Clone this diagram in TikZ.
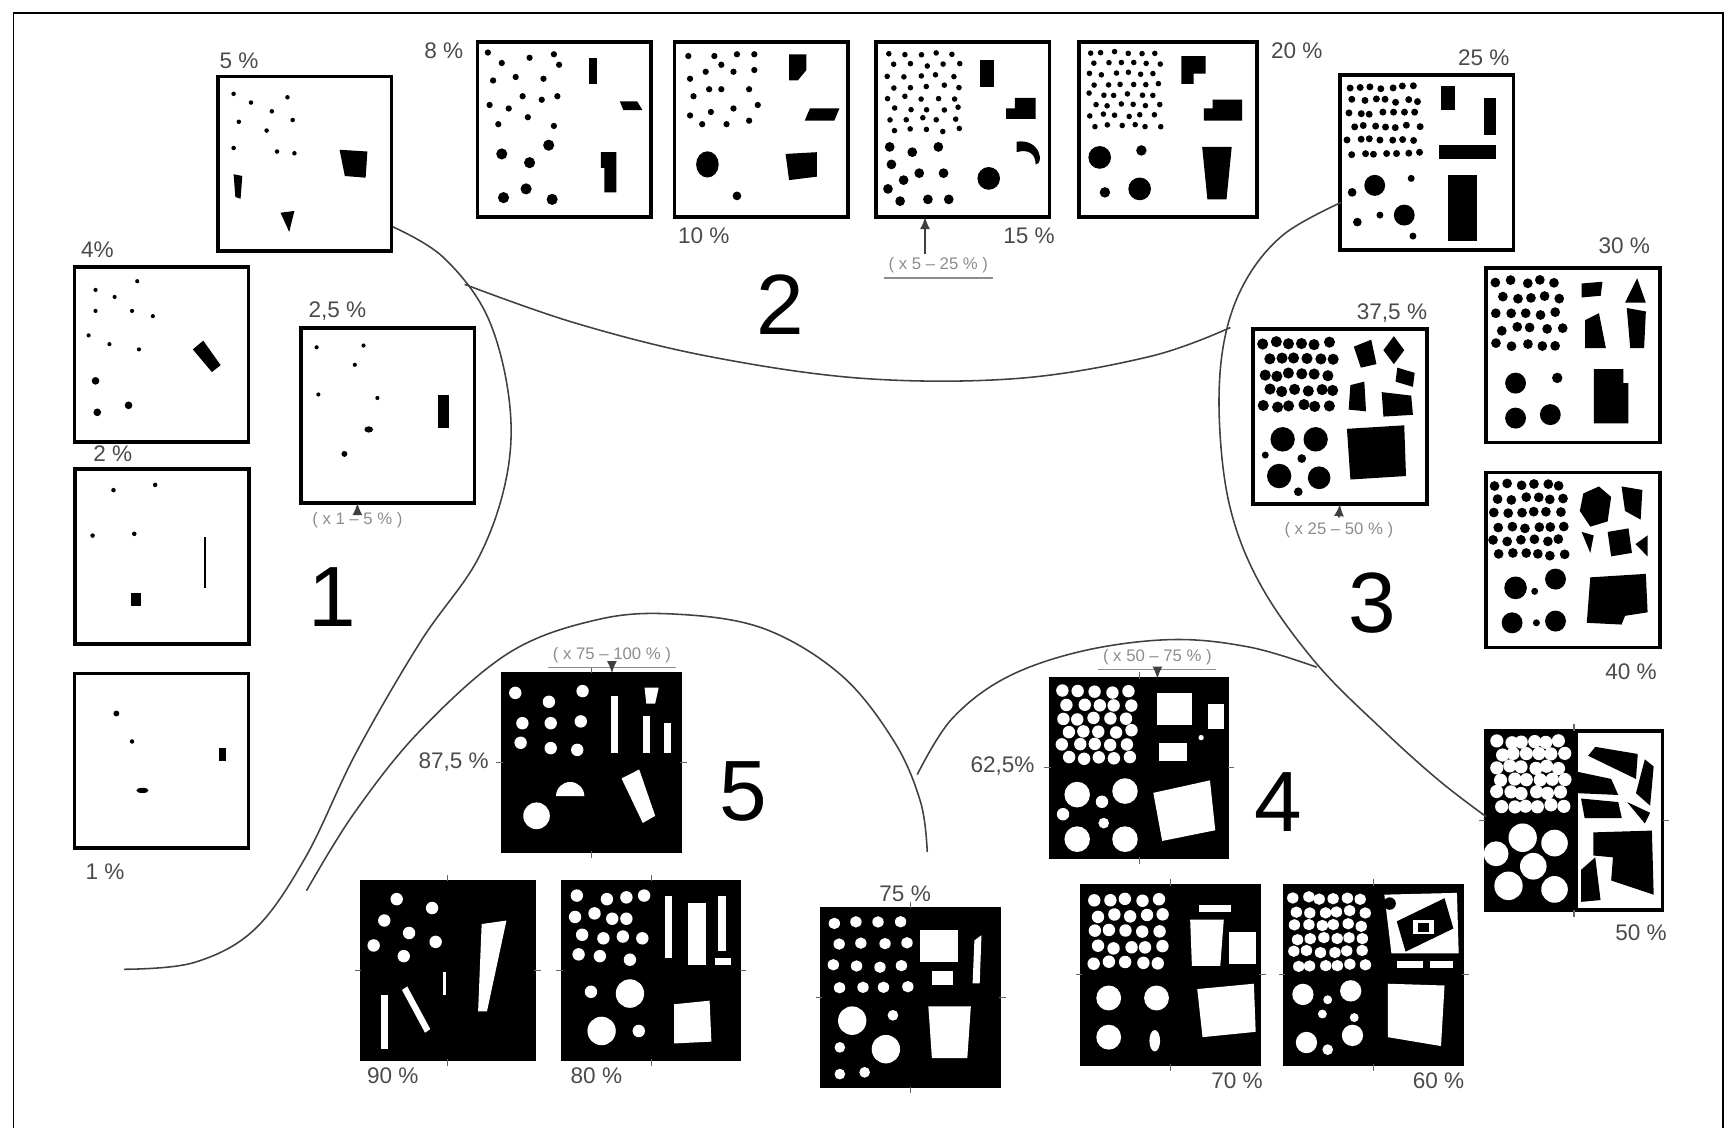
\documentclass[tikz,border=0pt]{standalone}
\usepackage{fontspec}
\setmainfont{Liberation Sans}
\usetikzlibrary{arrows.meta,positioning}
\definecolor{inkgray}{HTML}{4A4A4A}
\definecolor{faintgray}{HTML}{8C8C8C}
\tikzset{
  chart/.style={draw=black,line width=0.9pt,fill=white,minimum width=15.7mm,minimum height=15.8mm,inner sep=0pt,outer sep=0pt},
  darkchart/.style={chart,fill=black,minimum width=16mm,minimum height=16.1mm},
  pct/.style={font=\fontsize{5.8}{6}\selectfont,text=inkgray,inner sep=0pt},
  grp/.style={font=\fontsize{22}{22}\selectfont,inner sep=0pt},
  rangelbl/.style={font=\fontsize{4.3}{4.5}\selectfont,text=faintgray,inner sep=1pt},
  uline/.style={draw=faintgray,line width=0.3pt},
  bound/.style={draw=black!75,line width=0.4pt},
  ar/.style={-{Latex[length=1.1mm,width=0.9mm]},draw=black!75,line width=0.4pt},
  tickmark/.style={draw=black!60,line width=0.3pt},
  inbox/.style={shift={(#1.north west)},x=15.7mm,y=-15.8mm},
  inboxd/.style={shift={(#1.north west)},x=16mm,y=-16.1mm},
}

\begin{document}
\begin{tikzpicture}[x=0.1mm,y=-0.1mm]
  \pgfmathsetseed{11}
  \useasboundingbox (0,0) rectangle (1568,1019);
  \draw[line width=0.4pt] (12,1030) -- (12,12) -- (1557,12) -- (1557,1030);

  % charts, group 1
  \node[chart] (c5) at (275.5,148) {};
  \node[chart] (c4) at (146,320.5) {};
  \node[chart] (c2) at (146.5,503) {};
  \node[chart] (c1) at (146,687.5) {};
  \node[chart] (c25) at (350.5,375.5) {};
  % group 2
  \node[chart] (c8) at (510,117) {};
  \node[chart] (c10) at (688,117) {};
  \node[chart] (c15) at (870,117) {};
  \node[chart,minimum width=16.1mm] (c20) at (1055.5,117) {};
  % group 3
  \node[chart] (c25b) at (1289.5,147) {};
  \node[chart] (c30) at (1421.5,321) {};
  \node[chart] (c375) at (1211,376.5) {};
  \node[chart] (c40) at (1421.5,506) {};
  \node[chart,minimum width=16mm,minimum height=16.2mm] (c50) at (1422.5,741.5) {};
  % groups 4 and 5
  \node[darkchart] (c62) at (1029.5,694) {};
  \node[darkchart] (c87) at (534.5,689) {};
  \node[darkchart,minimum width=15.6mm] (c90) at (404.5,877) {};
  \node[darkchart] (c80) at (588.5,877) {};
  \node[darkchart] (c75) at (823,901.5) {};
  \node[darkchart] (c70) at (1058,881) {};
  \node[darkchart] (c60) at (1241.5,881) {};

  \foreach \b in {c62,c87,c90,c80,c75,c70,c60,c50} {
    \draw[tickmark] (\b.north) -- ++(0,-6);
    \draw[tickmark] (\b.south) -- ++(0,6);
    \draw[tickmark] (\b.west) -- ++(-6,0);
    \draw[tickmark] (\b.east) -- ++(6,0);
  }

  % grains, white charts
  \begin{scope}[inbox=c5]
    \foreach \px/\py in {0.09/0.10,0.19/0.15,0.31/0.20,0.40/0.12,0.12/0.26,0.28/0.31,0.43/0.25,0.09/0.41,0.34/0.43,0.44/0.44}
      \fill (\px,\py) circle[radius=0.013];
    \fill (0.70,0.42) -- (0.86,0.43) -- (0.85,0.58) -- (0.73,0.57) -- cycle;
    \fill (0.09,0.56) -- (0.14,0.57) -- (0.13,0.70) -- (0.10,0.69) -- cycle;
    \fill (0.36,0.78) -- (0.44,0.77) -- (0.41,0.89) -- cycle;
  \end{scope}
  \begin{scope}[inbox=c4]
    \foreach \px/\py in {0.12/0.13,0.23/0.17,0.36/0.08,0.12/0.25,0.33/0.25,0.45/0.28,0.08/0.39,0.20/0.44,0.37/0.47}
      \fill (\px,\py) circle[radius=0.012];
    \foreach \px/\py in {0.12/0.65,0.13/0.83,0.31/0.79}
      \fill (\px,\py) circle[radius=0.022];
    \fill (0.68,0.47) -- (0.74,0.42) -- (0.84,0.56) -- (0.79,0.60) -- cycle;
  \end{scope}
  \begin{scope}[inbox=c2]
    \foreach \px/\py in {0.22/0.12,0.46/0.09,0.10/0.38,0.34/0.37}
      \fill (\px,\py) circle[radius=0.013];
    \fill (0.32,0.71) rectangle (0.38,0.78);
    \fill (0.74,0.39) rectangle (0.755,0.68);
  \end{scope}
  \begin{scope}[inbox=c1]
    \fill (0.24,0.23) circle[radius=0.017];
    \fill (0.33,0.39) circle[radius=0.013];
    \fill (0.39,0.67) ellipse[x radius=0.035,y radius=0.015];
    \fill (0.83,0.43) rectangle (0.87,0.50);
  \end{scope}
  \begin{scope}[inbox=c25]
    \foreach \px/\py in {0.09/0.11,0.36/0.10,0.31/0.21,0.10/0.38,0.44/0.40}
      \fill (\px,\py) circle[radius=0.012];
    \fill (0.39,0.58) ellipse[x radius=0.025,y radius=0.018];
    \fill (0.25,0.72) circle[radius=0.017];
    \fill (0.79,0.38) rectangle (0.85,0.57);
  \end{scope}
  \begin{scope}[inbox=c8]
    \foreach \px/\py in {0.06/0.06,0.30/0.09,0.44/0.07,0.14/0.12,0.47/0.13,0.09/0.22,0.22/0.20,0.38/0.21,0.26/0.31,0.37/0.33,0.46/0.31,0.07/0.36,0.18/0.38,0.29/0.43,0.12/0.47,0.44/0.48}
      \fill (\px,\py) circle[radius=0.018];
    \foreach \px/\py in {0.14/0.64,0.41/0.59,0.30/0.69,0.28/0.84,0.15/0.89,0.43/0.90}
      \fill (\px,\py) circle[radius=0.032];
    \fill (0.64,0.09) rectangle (0.69,0.24);
    \fill (0.82,0.34) -- (0.92,0.34) -- (0.95,0.39) -- (0.84,0.39) -- cycle;
    \fill (0.71,0.63) -- (0.80,0.63) -- (0.80,0.86) -- (0.73,0.86) -- (0.73,0.72) -- (0.71,0.72) -- cycle;
  \end{scope}
  \begin{scope}[inbox=c10]
    \foreach \px/\py in {0.08/0.08,0.23/0.08,0.36/0.07,0.46/0.07,0.27/0.13,0.46/0.16,0.09/0.21,0.18/0.17,0.34/0.17,0.20/0.27,0.27/0.27,0.43/0.27,0.11/0.31,0.48/0.36,0.21/0.40,0.34/0.38,0.09/0.42,0.16/0.47,0.30/0.47,0.43/0.45}
      \fill (\px,\py) circle[radius=0.018];
    \fill (0.19,0.70) ellipse[x radius=0.065,y radius=0.075];
    \fill (0.36,0.88) circle[radius=0.025];
    \fill (0.66,0.07) -- (0.76,0.07) -- (0.76,0.16) -- (0.71,0.22) -- (0.66,0.22) -- cycle;
    \fill (0.78,0.38) -- (0.95,0.38) -- (0.92,0.45) -- (0.75,0.45) -- cycle;
    \fill (0.64,0.64) -- (0.82,0.63) -- (0.82,0.77) -- (0.66,0.79) -- cycle;
  \end{scope}
  \begin{scope}[inbox=c15]
    \foreach \i in {0,...,4} \foreach \j in {0,...,7}
      \fill ({0.07+0.095*\i+0.03*mod(\j,2)+0.012*rand},{0.07+0.062*\j+0.01*rand}) circle[radius=0.016];
    \foreach \px/\py in {0.08/0.60,0.21/0.63,0.36/0.60,0.09/0.70,0.25/0.75,0.39/0.75,0.07/0.84,0.16/0.79,0.14/0.91,0.30/0.90,0.42/0.90}
      \fill (\px,\py) circle[radius=0.028];
    \fill (0.65,0.78) circle[radius=0.065];
    \fill (0.60,0.10) rectangle (0.68,0.26);
    \fill (0.80,0.32) -- (0.92,0.32) -- (0.92,0.44) -- (0.75,0.44) -- (0.75,0.38) -- (0.80,0.38) -- cycle;
    \fill (0.81,0.57) .. controls (0.95,0.55) and (0.97,0.70) .. (0.92,0.70) .. controls (0.92,0.64) and (0.88,0.61) .. (0.81,0.63) -- cycle;
  \end{scope}
  \begin{scope}[inbox=c20]
    \foreach \i in {0,...,5} \foreach \j in {0,...,7}
      \fill ({0.06+0.075*\i+0.03*mod(\j,2)+0.01*rand},{0.06+0.06*\j+0.008*rand}) circle[radius=0.016];
    \foreach \px/\py/\pr in {0.12/0.66/0.065,0.36/0.62/0.03,0.35/0.84/0.065,0.15/0.86/0.03}
      \fill (\px,\py) circle[radius=\pr];
    \fill (0.59,0.08) -- (0.73,0.08) -- (0.73,0.18) -- (0.66,0.18) -- (0.66,0.24) -- (0.59,0.24) -- cycle;
    \fill (0.77,0.33) -- (0.94,0.33) -- (0.94,0.45) -- (0.72,0.45) -- (0.72,0.38) -- (0.77,0.38) -- cycle;
    \fill (0.71,0.60) -- (0.88,0.60) -- (0.85,0.90) -- (0.74,0.90) -- cycle;
  \end{scope}
  \begin{scope}[inbox=c25b]
    \foreach \i in {0,...,6} \foreach \j in {0,...,5}
      \fill ({0.05+0.063*\i+0.025*mod(\j,2)+0.01*rand},{0.07+0.075*\j+0.01*rand}) circle[radius=0.02];
    \foreach \px/\py/\pr in {0.20/0.63/0.06,0.37/0.80/0.06,0.07/0.67/0.025,0.10/0.84/0.025,0.23/0.80/0.02,0.41/0.59/0.02,0.42/0.92/0.02}
      \fill (\px,\py) circle[radius=\pr];
    \fill (0.58,0.06) rectangle (0.66,0.20);
    \fill (0.83,0.13) rectangle (0.90,0.34);
    \fill (0.57,0.40) rectangle (0.90,0.48);
    \fill (0.62,0.57) rectangle (0.79,0.95);
  \end{scope}
  \begin{scope}[inbox=c30]
    \foreach \i in {0,...,4} \foreach \j in {0,...,4}
      \fill ({0.06+0.085*\i+0.03*mod(\j,2)+0.012*rand},{0.08+0.09*\j+0.012*rand}) circle[radius=0.028];
    \foreach \px/\py/\pr in {0.17/0.66/0.06,0.17/0.86/0.06,0.37/0.84/0.06,0.41/0.63/0.03}
      \fill (\px,\py) circle[radius=\pr];
    \fill (0.55,0.09) -- (0.67,0.08) -- (0.66,0.16) -- (0.55,0.17) -- cycle;
    \fill (0.80,0.20) -- (0.87,0.06) -- (0.92,0.20) -- cycle;
    \fill (0.57,0.30) -- (0.65,0.26) -- (0.69,0.46) -- (0.57,0.46) -- cycle;
    \fill (0.81,0.23) -- (0.92,0.25) -- (0.91,0.46) -- (0.83,0.46) -- cycle;
    \fill (0.62,0.58) -- (0.79,0.58) -- (0.79,0.66) -- (0.82,0.66) -- (0.82,0.89) -- (0.62,0.89) -- cycle;
  \end{scope}
  \begin{scope}[inbox=c375]
    \foreach \i in {0,...,5} \foreach \j in {0,...,4}
      \fill ({0.06+0.075*\i+0.03*mod(\j,2)+0.01*rand},{0.08+0.09*\j+0.01*rand}) circle[radius=0.032];
    \foreach \px/\py/\pr in {0.17/0.63/0.07,0.36/0.63/0.07,0.15/0.84/0.07,0.38/0.85/0.065,0.28/0.74/0.025,0.26/0.93/0.025,0.07/0.72/0.02}
      \fill (\px,\py) circle[radius=\pr];
    \fill (0.58,0.10) -- (0.68,0.06) -- (0.71,0.20) -- (0.62,0.22) -- cycle;
    \fill (0.81,0.04) -- (0.87,0.12) -- (0.81,0.20) -- (0.75,0.12) -- cycle;
    \fill (0.83,0.22) -- (0.93,0.25) -- (0.92,0.33) -- (0.82,0.30) -- cycle;
    \fill (0.56,0.32) -- (0.64,0.30) -- (0.65,0.47) -- (0.55,0.46) -- cycle;
    \fill (0.74,0.36) -- (0.91,0.38) -- (0.92,0.49) -- (0.75,0.50) -- cycle;
    \fill (0.54,0.57) -- (0.87,0.55) -- (0.88,0.84) -- (0.56,0.86) -- cycle;
  \end{scope}
  \begin{scope}[inbox=c40]
    \foreach \i in {0,...,5} \foreach \j in {0,...,5}
      \fill ({0.05+0.075*\i+0.025*mod(\j,2)+0.01*rand},{0.07+0.08*\j+0.01*rand}) circle[radius=0.028];
    \foreach \px/\py/\pr in {0.17/0.66/0.065,0.40/0.61/0.06,0.15/0.86/0.06,0.40/0.85/0.06,0.28/0.68/0.02,0.29/0.86/0.02}
      \fill (\px,\py) circle[radius=\pr];
    \fill (0.56,0.12) -- (0.65,0.08) -- (0.72,0.14) -- (0.70,0.28) -- (0.60,0.31) -- (0.54,0.22) -- cycle;
    \fill (0.78,0.08) -- (0.90,0.10) -- (0.89,0.27) -- (0.80,0.22) -- cycle;
    \fill (0.70,0.34) -- (0.82,0.32) -- (0.84,0.46) -- (0.72,0.48) -- cycle;
    \fill (0.86,0.41) -- (0.93,0.36) -- (0.93,0.48) -- cycle;
    \fill (0.55,0.34) -- (0.62,0.36) -- (0.60,0.46) -- cycle;
    \fill (0.60,0.60) -- (0.92,0.58) -- (0.93,0.80) -- (0.80,0.82) -- (0.78,0.87) -- (0.58,0.86) -- cycle;
  \end{scope}
  \begin{scope}[inboxd=c50]
    \fill (0,0) rectangle (0.52,1);
    \foreach \i in {0,...,5} \foreach \j in {0,...,5}
      \fill[white] ({0.07+0.07*\i+0.02*mod(\j,2)+0.01*rand},{0.06+0.072*\j+0.008*rand}) circle[radius=0.037];
    \foreach \px/\py/\pr in {0.21/0.60/0.08,0.39/0.63/0.075,0.06/0.69/0.07,0.27/0.76/0.075,0.13/0.87/0.08,0.39/0.89/0.075}
      \fill[white] (\px,\py) circle[radius=\pr];
    \fill (0.62,0.09) -- (0.86,0.13) -- (0.85,0.27) -- (0.58,0.14) -- cycle;
    \fill (0.52,0.23) -- (0.71,0.27) -- (0.75,0.36) -- (0.52,0.35) -- cycle;
    \fill (0.90,0.16) -- (0.95,0.20) -- (0.93,0.42) -- (0.85,0.35) -- cycle;
    \fill (0.54,0.38) -- (0.75,0.40) -- (0.77,0.49) -- (0.56,0.49) -- cycle;
    \fill (0.80,0.40) -- (0.93,0.46) -- (0.90,0.52) -- cycle;
    \fill (0.61,0.57) -- (0.94,0.56) -- (0.95,0.92) -- (0.71,0.84) -- (0.72,0.71) -- (0.61,0.70) -- cycle;
    \fill (0.54,0.78) -- (0.62,0.71) -- (0.65,0.95) -- (0.54,0.96) -- cycle;
  \end{scope}

  % grains, black charts
  \begin{scope}[inboxd=c87,white]
    \foreach \px/\py in {0.07/0.11,0.26/0.16,0.45/0.10,0.11/0.28,0.27/0.28,0.44/0.27,0.10/0.39,0.27/0.42,0.42/0.43}
      \fill (\px,\py) circle[radius=0.035];
    \fill (0.19,0.80) circle[radius=0.075];
    \fill (0.30,0.69) arc[start angle=180,end angle=360,radius=0.08] -- cycle;
    \fill (0.61,0.13) rectangle (0.65,0.45);
    \fill (0.80,0.08) -- (0.88,0.08) -- (0.86,0.17) -- (0.81,0.17) -- cycle;
    \fill (0.79,0.24) rectangle (0.83,0.45);
    \fill (0.91,0.28) rectangle (0.95,0.45);
    \fill (0.67,0.59) -- (0.77,0.54) -- (0.86,0.80) -- (0.79,0.84) -- cycle;
  \end{scope}
  \begin{scope}[inboxd=c90,white]
    \foreach \px/\py in {0.20/0.10,0.40/0.15,0.13/0.22,0.27/0.29,0.42/0.34,0.07/0.36,0.24/0.42}
      \fill (\px,\py) circle[radius=0.035];
    \fill (0.68,0.24) -- (0.82,0.22) -- (0.71,0.73) -- (0.66,0.73) -- cycle;
    \fill (0.11,0.64) rectangle (0.15,0.94);
    \fill (0.23,0.61) -- (0.26,0.59) -- (0.39,0.83) -- (0.36,0.85) -- cycle;
    \fill (0.46,0.51) rectangle (0.48,0.64);
  \end{scope}
  \begin{scope}[inboxd=c80,white]
    \foreach \px/\py in {0.08/0.08,0.25/0.10,0.36/0.09,0.46/0.08,0.07/0.20,0.18/0.18,0.28/0.21,0.36/0.21,0.11/0.30,0.23/0.32,0.34/0.31,0.45/0.32,0.09/0.41,0.21/0.42,0.38/0.44}
      \fill (\px,\py) circle[radius=0.035];
    \foreach \px/\py/\pr in {0.38/0.63/0.08,0.16/0.62/0.035,0.22/0.84/0.08,0.43/0.84/0.035}
      \fill (\px,\py) circle[radius=\pr];
    \fill (0.58,0.08) rectangle (0.62,0.43);
    \fill (0.71,0.12) rectangle (0.81,0.47);
    \fill (0.88,0.08) rectangle (0.92,0.39);
    \fill (0.86,0.43) rectangle (0.95,0.47);
    \fill (0.63,0.69) -- (0.83,0.67) -- (0.84,0.90) -- (0.63,0.91) -- cycle;
  \end{scope}
  \begin{scope}[inboxd=c75,white]
    \foreach \i in {0,...,3} \foreach \j in {0,...,3}
      \fill ({0.07+0.125*\i+0.03*mod(\j,2)+0.01*rand},{0.08+0.12*\j+0.01*rand}) circle[radius=0.032];
    \foreach \px/\py/\pr in {0.17/0.63/0.08,0.40/0.60/0.03,0.10/0.78/0.03,0.36/0.79/0.08,0.10/0.93/0.03,0.24/0.92/0.03}
      \fill (\px,\py) circle[radius=\pr];
    \fill (0.55,0.12) rectangle (0.77,0.30);
    \fill (0.62,0.35) rectangle (0.74,0.43);
    \fill (0.86,0.18) -- (0.90,0.15) -- (0.89,0.42) -- (0.85,0.42) -- cycle;
    \fill (0.60,0.55) -- (0.84,0.55) -- (0.82,0.84) -- (0.62,0.84) -- cycle;
  \end{scope}
  \begin{scope}[inboxd=c62,white]
    \foreach \i in {0,...,4} \foreach \j in {0,...,5}
      \fill ({0.07+0.09*\i+0.025*mod(\j,2)+0.01*rand},{0.07+0.075*\j+0.008*rand}) circle[radius=0.035];
    \foreach \px/\py/\pr in {0.15/0.65/0.072,0.42/0.63/0.072,0.29/0.69/0.035,0.07/0.76/0.035,0.15/0.90/0.072,0.42/0.90/0.072,0.30/0.81/0.03}
      \fill (\px,\py) circle[radius=\pr];
    \fill (0.60,0.08) rectangle (0.80,0.26);
    \fill (0.89,0.14) rectangle (0.98,0.28);
    \fill (0.85,0.33) circle[radius=0.015];
    \fill (0.61,0.36) rectangle (0.77,0.46);
    \fill (0.58,0.64) -- (0.90,0.57) -- (0.93,0.85) -- (0.63,0.91) -- cycle;
  \end{scope}
  \begin{scope}[inboxd=c70,white]
    \foreach \i in {0,...,4} \foreach \j in {0,...,4}
      \fill ({0.07+0.09*\i+0.02*mod(\j,2)+0.01*rand},{0.08+0.088*\j+0.008*rand}) circle[radius=0.035];
    \foreach \px/\py/\pr in {0.15/0.63/0.07,0.42/0.63/0.07,0.15/0.85/0.07}
      \fill (\px,\py) circle[radius=\pr];
    \fill (0.41,0.87) ellipse[x radius=0.03,y radius=0.06];
    \fill (0.66,0.11) rectangle (0.84,0.15);
    \fill (0.61,0.19) -- (0.80,0.19) -- (0.78,0.45) -- (0.62,0.45) -- cycle;
    \fill (0.83,0.26) rectangle (0.98,0.44);
    \fill (0.65,0.58) -- (0.97,0.55) -- (0.98,0.82) -- (0.68,0.85) -- cycle;
  \end{scope}
  \begin{scope}[inboxd=c60,white]
    \foreach \i in {0,...,5} \foreach \j in {0,...,5}
      \fill ({0.05+0.075*\i+0.02*mod(\j,2)+0.01*rand},{0.07+0.075*\j+0.008*rand}) circle[radius=0.032];
    \foreach \px/\py/\pr in {0.10/0.61/0.06,0.37/0.59/0.06,0.12/0.88/0.06,0.38/0.84/0.06,0.24/0.64/0.025,0.21/0.72/0.025,0.39/0.74/0.025,0.24/0.92/0.03}
      \fill (\px,\py) circle[radius=\pr];
    \fill (0.56,0.05) -- (0.97,0.04) -- (0.98,0.38) -- (0.60,0.38) -- cycle;
    \fill[black] (0.59,0.10) circle[radius=0.035];
    \fill[black] (0.63,0.20) -- (0.90,0.07) -- (0.95,0.24) -- (0.68,0.37) -- cycle;
    \fill (0.72,0.19) rectangle (0.84,0.27);
    \fill[black] (0.75,0.21) rectangle (0.81,0.26);
    \fill (0.63,0.42) rectangle (0.78,0.46);
    \fill (0.82,0.42) rectangle (0.95,0.46);
    \fill (0.58,0.55) -- (0.90,0.56) -- (0.88,0.90) -- (0.58,0.85) -- cycle;
  \end{scope}

  % group boundaries
  \draw[bound] plot[smooth,tension=0.6] coordinates {(355,205) (400,232) (440,285) (460,360) (458,430) (432,505) (380,580) (322,680) (276,775) (230,840) (175,870) (112,876)};
  \draw[bound] plot[smooth,tension=0.6] coordinates {(420,257) (520,292) (640,322) (780,342) (920,342) (1040,322) (1112,296)};
  \draw[bound] plot[smooth,tension=0.6] coordinates {(1212,183) (1160,212) (1125,255) (1106,310) (1102,380) (1112,460) (1140,530) (1190,600) (1250,660) (1300,705) (1343,738)};
  \draw[bound] plot[smooth,tension=0.6] coordinates {(829,700) (860,650) (910,612) (980,588) (1060,578) (1130,585) (1190,603)};
  \draw[bound] plot[smooth,tension=0.6] coordinates {(277,805) (320,735) (380,660) (460,590) (540,560) (610,555) (690,568) (760,610) (808,670) (832,725) (838,770)};

  % percentages
  \node[pct] (l5) at (216,55) {5 \%};
  \node[pct] (l4) at (88,226) {4\%};
  \node[pct] (l2) at (102,410) {2 \%};
  \node[pct] (l1) at (95,788) {1 \%};
  \node[pct] (l25) at (305,281) {2,5 \%};
  \node[pct] (l8) at (401,46) {8 \%};
  \node[pct] (l10) at (636,213) {10 \%};
  \node[pct] (l15) at (930,213) {15 \%};
  \node[pct] (l20) at (1172,46) {20 \%};
  \node[pct] (l25b) at (1341,52) {25 \%};
  \node[pct] (l30) at (1468,222) {30 \%};
  \node[pct] (l375) at (1258,283) {37,5 \%};
  \node[pct] (l40) at (1474,607) {40 \%};
  \node[pct] (l50) at (1483,843) {50 \%};
  \node[pct] (l62) at (906,692) {62,5\%};
  \node[pct] (l87) at (410,689) {87,5 \%};
  \node[pct] (l90) at (355,972) {90 \%};
  \node[pct] (l80) at (539,972) {80 \%};
  \node[pct] (l75) at (818,808) {75 \%};
  \node[pct] (l70) at (1118,977) {70 \%};
  \node[pct] (l60) at (1300,977) {60 \%};

  % group numbers
  \node[grp] (g1) at (300,540) {1};
  \node[grp] (g2) at (705,275) {2};
  \node[grp] (g3) at (1240,545) {3};
  \node[grp] (g4) at (1155,725) {4};
  \node[grp] (g5) at (672,715) {5};

  % mean ranges
  \node[rangelbl] (r1) at (323,470) {( x 1 – 5 \% )};
  \node[rangelbl] (r2) at (848,240) {( x 5 – 25 \% )};
  \node[rangelbl] (r3) at (1210,479) {( x 25 – 50 \% )};
  \node[rangelbl] (r4) at (1046,594) {( x 50 – 75 \% )};
  \node[rangelbl] (r5) at (553,592) {( x 75 – 100 \% )};
  \foreach \rn in {r2,r4,r5}
    \draw[uline] (\rn.south west) -- (\rn.south east);
  \coordinate (a2) at (836,230);
  \draw[ar] (r1.north) -- (r1.north |- c25.south);
  \draw[ar] (a2) -- (a2 |- c15.south);
  \draw[ar] (r3.north) -- (c375.south);
  \draw[ar] (r4.south) -- (c62.north -| r4.south);
  \draw[ar] (r5.south) -- (c87.north -| r5.south);
\end{tikzpicture}
\end{document}
